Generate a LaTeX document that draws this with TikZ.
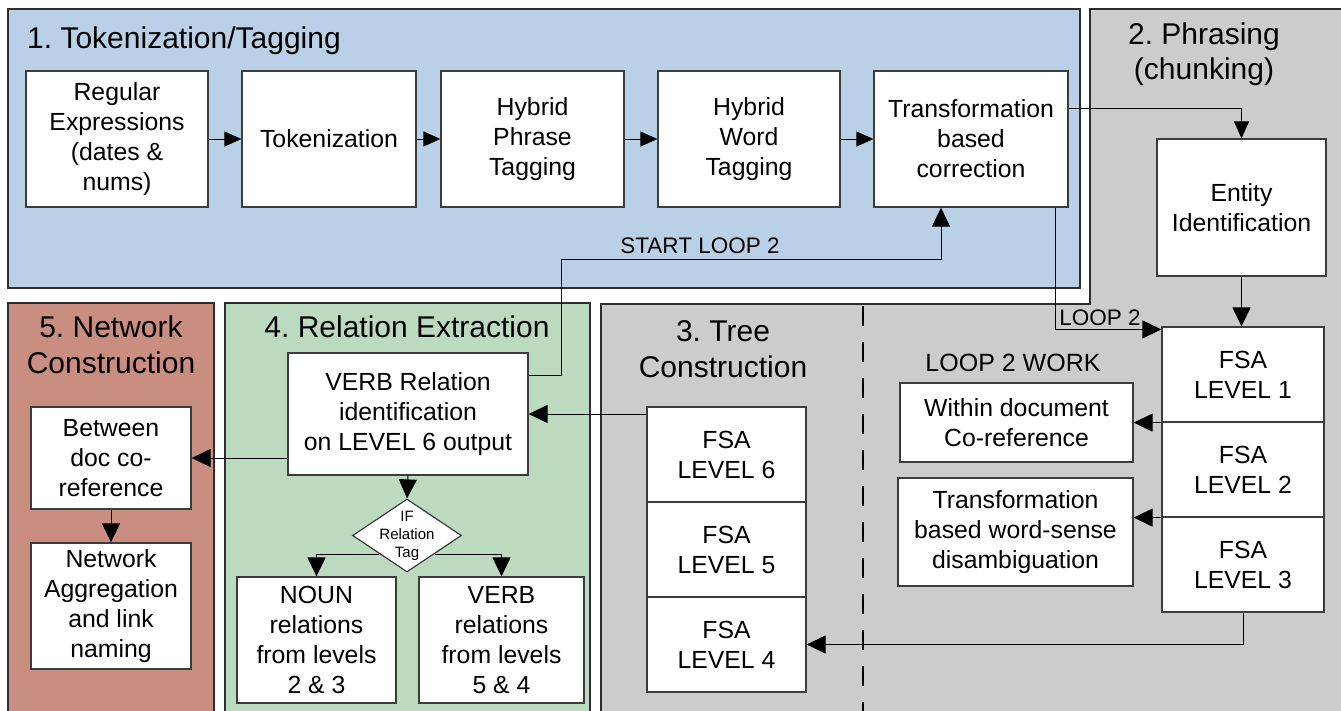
\documentclass[tikz,border=0pt]{standalone}
\usepackage{fontspec}
\setmainfont{Liberation Sans}
\frenchspacing
\usetikzlibrary{arrows.meta,shapes.geometric,calc}
\definecolor{pblue}{RGB}{185,208,230}
\definecolor{pgray}{RGB}{204,204,204}
\definecolor{pred}{RGB}{201,142,128}
\definecolor{pgreen}{RGB}{187,218,192}
\definecolor{boxline}{RGB}{60,60,60}
\definecolor{panelline}{RGB}{45,45,45}
\begin{document}
\begin{tikzpicture}[x=1pt,y=-1pt,
  box/.style={draw=boxline, line width=1.2pt, fill=white, align=center, inner sep=0pt, font=\fontsize{24.8}{30}\selectfont},
  panel/.style={draw=panelline, line width=1.3pt},
  arr/.style={draw=black, line width=1pt, -{Triangle[length=19pt,width=18pt]}},
  arrsmall/.style={draw=black, line width=1pt, -{Triangle[length=17pt,width=15pt]}},
  ttl/.style={align=center, inner sep=0pt, font=\fontsize{30}{35.5}\selectfont},
  lbl/.style={inner sep=0pt, font=\fontsize{22.5}{27}\selectfont}]
\useasboundingbox (0,0) rectangle (1341,710);
\begin{scope}
\clip (0,0) rectangle (1341,710);
\fill[white] (0,0) rectangle (1341,710);
\draw[panel, fill=pblue] (8,9) rectangle (1080,288);
\draw[panel, fill=pgray] (601,304) -- (1090,304) -- (1090,9) -- (1350,9) -- (1350,720) -- (601,720) -- cycle;
\draw[panel, fill=pred] (8,303) rectangle (214,720);
\draw[panel, fill=pgreen] (225,303) rectangle (590,720);
\draw[line width=2.5pt, dash pattern=on 20pt off 16pt] (863,306) -- (863,712);
\end{scope}

% titles
\node[ttl, anchor=west] (t1) at (27,41) {1. Tokenization/Tagging};
\node[ttl] (t2) at (1204,54) {2. Phrasing\\(chunking)};
\node[ttl] (t5) at (111,345) {5. Network\\Construction};
\node[ttl] (t4) at (407,327) {4. Relation Extraction};
\node[ttl] (t3) at (723,349) {3. Tree\\Construction};

% panel 1 boxes
\node[box, minimum width=182, minimum height=136] (re) at (117,139) {Regular\\Expressions\\(dates \&\\nums)};
\node[box, minimum width=174, minimum height=136] (tok) at (329,139) {Tokenization};
\node[box, minimum width=183, minimum height=136] (hpt) at (532.5,139) {Hybrid\\Phrase\\Tagging};
\node[box, minimum width=182, minimum height=136] (hwt) at (749,139) {Hybrid\\Word\\Tagging};
\node[box, minimum width=194, minimum height=136] (tbc) at (971,139) {Transformation\\based\\correction};

% panel 2
\node[box, minimum width=169, minimum height=137] (ent) at (1241.5,207.5) {Entity\\Identification};
\node[box, minimum width=162, minimum height=95] (f1) at (1243,374.5) {FSA\\LEVEL 1};
\node[box, minimum width=162, minimum height=95] (f2) at (1243,469.5) {FSA\\LEVEL 2};
\node[box, minimum width=162, minimum height=95] (f3) at (1243,564.5) {FSA\\LEVEL 3};
\node[inner sep=0pt, font=\fontsize{25}{30}\selectfont] (lw) at (1013,363) {LOOP 2 WORK};
\node[box, minimum width=233, minimum height=79] (wdc) at (1016.5,422.5) {Within document\\Co-reference};
\node[box, minimum width=235, minimum height=108] (wsd) at (1015.5,532) {Transformation\\based word-sense\\disambiguation};

% panel 3
\node[box, minimum width=159, minimum height=95] (f6) at (726.5,454.5) {FSA\\LEVEL 6};
\node[box, minimum width=159, minimum height=95] (f5) at (726.5,549.5) {FSA\\LEVEL 5};
\node[box, minimum width=159, minimum height=95] (f4) at (726.5,644.5) {FSA\\LEVEL 4};

% panel 4
\node[box, minimum width=240, minimum height=122] (verb) at (408,414) {VERB Relation\\identification\\on LEVEL 6 output};
\node[diamond, draw=boxline, line width=1.2pt, fill=white, inner sep=0pt, minimum width=109, minimum height=73,
  label={[align=center, inner sep=0pt, font=\fontsize{15}{18}\selectfont]center:IF\\Relation\\Tag}] (dia) at (407,535.5) {};
\node[box, minimum width=159, minimum height=126] (noun) at (316.5,640) {NOUN\\relations\\from levels\\2 \& 3};
\node[box, minimum width=165, minimum height=126] (vrel) at (501.5,640) {VERB\\relations\\from levels\\5 \& 4};

% panel 5
\node[box, minimum width=160, minimum height=102] (btw) at (111,458) {Between\\doc co-\\reference};
\node[box, minimum width=160, minimum height=126] (agg) at (111,606) {Network\\Aggregation\\and link\\naming};

% connectors panel 1
\draw[arrsmall] (re.east) -- (tok.west);
\draw[arrsmall] (tok.east) -- (hpt.west);
\draw[arrsmall] (hpt.east) -- (hwt.west);
\draw[arrsmall] (hwt.east) -- (tbc.west);
\draw[arrsmall] ([yshift=31pt]tbc.east) -| (ent.north);
\draw[arr] (ent.south) -- (ent.south |- f1.north);

% loop 2
\draw[arr] ([xshift=84pt]tbc.south) |- ([yshift=-3pt]f1.north west);
\node[lbl] (l2) at (1100,318) {LOOP 2};

% start loop 2
\coordinate (sl) at (561,259);
\draw[arr] ([yshift=39pt]verb.east) -| (sl) -| ([xshift=-30pt]tbc.south);
\node[lbl] (sl2) at (700,246) {START LOOP 2};

% loop 2 work
\draw[arr] (f1.south west) -- (wdc.east |- f1.south west);
\draw[arr] (f2.south west) -- (wsd.east |- f2.south west);
\draw[arr] (f3.south) |- (f4.east);

% tree to relation
\draw[arr] (f6.west |- verb.east) -- (verb.east);
\draw[arr] (verb.west |- btw.east) -- (btw.east);
\draw[arr] (btw.south) -- (agg.north);
\draw[arr] (verb.south) -- (dia.north);
\draw[arr] (dia.south west) -| (noun.north);
\draw[arr] (dia.south east) -| (vrel.north);
\end{tikzpicture}
\end{document}
